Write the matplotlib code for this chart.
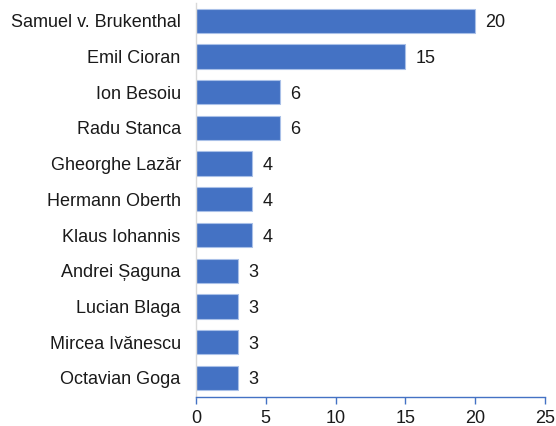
import matplotlib
matplotlib.use("Agg")
import matplotlib.pyplot as plt

names = ["Samuel v. Brukenthal", "Emil Cioran", "Ion Besoiu", "Radu Stanca",
         "Gheorghe Lazăr", "Hermann Oberth", "Klaus Iohannis", "Andrei Șaguna",
         "Lucian Blaga", "Mircea Ivănescu", "Octavian Goga"]
values = [20, 15, 6, 6, 4, 4, 4, 3, 3, 3, 3]
xticks = [0, 5, 10, 15, 20, 25]

plt.rcParams['font.family'] = ['Liberation Sans', 'DejaVu Sans']

fig = plt.figure(figsize=(5.56, 4.26), dpi=100)
ax = fig.add_axes([0.3525, 0.067, 0.6275, 0.926])

pos = list(range(len(names)))
ax.barh(pos, values, height=0.68, color='#4472C4', edgecolor='#a9c0e8', linewidth=0.8)
for p, v in zip(pos, values):
    ax.text(v + 0.75, p, str(v), va='center_baseline', ha='left', fontsize=13, color='#1a1a1a')

ax.set_yticks(pos)
ax.set_yticklabels(names, fontsize=13, color='#1a1a1a')
ax.set_ylim(len(names) - 0.45, -0.5)
ax.set_xlim(0, 25)
ax.set_xticks(xticks)
ax.set_xticklabels([str(t) for t in xticks], fontsize=13, color='#1a1a1a')

for s in ['top', 'right']:
    ax.spines[s].set_visible(False)
ax.spines['left'].set_color('#d9d9d9')
ax.spines['left'].set_linewidth(1.0)
ax.spines['bottom'].set_color('#4472C4')
ax.spines['bottom'].set_linewidth(1.0)
ax.tick_params(axis='y', length=0, pad=11)
ax.tick_params(axis='x', length=5, color='#4472C4', width=1.0, pad=4)

fig.savefig('out.png', dpi=100)
